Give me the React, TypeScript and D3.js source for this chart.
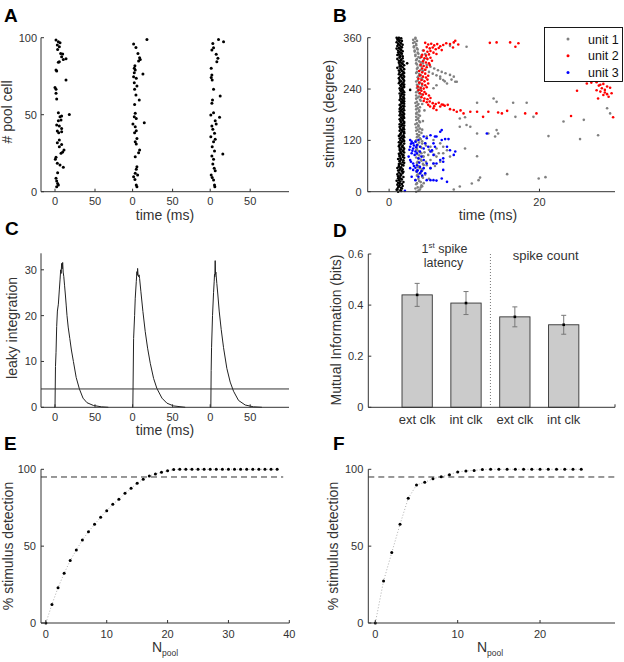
import React from 'react';
import * as d3 from 'd3';

const FONT = '"Liberation Sans", Arial, Helvetica, sans-serif';
const INK = '#333333';

// ---------------- Panel A : raster of pool cells (three trials) ----------------
const trialOffsets = [0, 97, 194];
const segTicks = [0, 50];
const poolTicks = [0, 50, 100];
const rasterTrial1 = [
  [1.25, 98.5], [4.2, 97.4], [6.25, 96.8], [2.9, 95.2], [5.4, 94.2], [3.3, 92.4], [7.1, 89.8], [9.6, 89.4],
  [8.3, 87.7], [10.4, 85.9], [13.75, 86.4], [5.4, 84.4], [4.2, 84], [1.25, 79], [2.1, 78.4], [13.75, 72.5],
  [0, 67.7], [1.25, 66.5], [1.25, 63.9], [2.1, 60.2], [4.2, 51.3], [17.9, 50.2], [6.25, 48.7], [8.3, 49.1],
  [4.2, 46.1], [7.5, 46.5], [2.1, 43.3], [5.4, 42.6], [8.3, 41.1], [2.9, 39.4], [4.6, 38.3], [8.3, 39],
  [5.4, 33.5], [2.9, 31.8], [8.3, 30.7], [5.4, 29.2], [11.25, 27.1], [9.6, 25.8], [7.5, 24.9], [1.25, 22.3],
  [0.4, 21], [2.9, 18.4], [6.25, 17.3], [10.4, 15.8], [3.3, 12.3], [1.25, 8.7], [2.1, 6.9], [3.3, 5.4],
  [4.2, 4.3], [2.1, 3.2],
];
const rasterTrial2 = [
  [17.9, 98.9], [1.25, 95.9], [4.2, 93.7], [6.7, 89.8], [8.75, 87], [9.6, 85.9], [7.5, 84.8], [2.9, 81.8],
  [2.1, 80.1], [3.3, 79], [2.1, 77.3], [12.9, 76.4], [1.25, 74.7], [4.6, 73.6], [2.1, 70.8], [5.4, 68.6],
  [2.5, 66.5], [4.2, 62.8], [8.3, 59.5], [2.5, 56.7], [3.3, 50.9], [2.1, 48.7], [4.6, 47.6], [0.4, 43.9],
  [14.6, 44.8], [3.3, 42.2], [4.6, 39.6], [2.5, 38.3], [5.4, 34.6], [3.3, 32.5], [4.6, 31], [8.75, 27.1],
  [7.5, 25.3], [3.3, 22.7], [5.4, 16.2], [4.6, 14.5], [3.3, 11.9], [1.25, 9.7], [6.25, 10.8], [2.9, 8],
  [4.6, 4.3], [5.4, 3.2],
];
const rasterTrial3 = [
  [10.4, 98.9], [16.7, 97.4], [3.3, 96.3], [4.2, 93.5], [2.1, 92], [7.5, 89.2], [9.6, 86.6], [8.3, 84.4],
  [1.25, 80.1], [2.1, 75.8], [1.25, 74.2], [2.5, 72.5], [4.2, 66.5], [12.5, 62.1], [2.9, 59.5], [2.1, 57.4],
  [4.2, 51.3], [0.8, 49.8], [11.7, 48.3], [6.25, 46.1], [2.1, 42.6], [3.3, 40.5], [7.5, 43.9], [5.4, 37.9],
  [0.8, 35.7], [6.25, 34], [4.2, 32.5], [2.5, 29.2], [5.4, 26.4], [2.1, 23.2], [15.8, 24.5], [4.2, 21],
  [3.3, 18], [5, 15.2], [6.25, 13.6], [1.25, 10.8], [2.5, 9.3], [4.2, 7.6], [5.4, 4.3], [5.8, 3.2],
];
const rasterTrials = [rasterTrial1, rasterTrial2, rasterTrial3];

// ---------------- Panel B : latency vs stimulus ----------------
const bDegTicks = [0, 120, 240, 360];
const bTimeTicks = [0, 20];
const blackStep = 3; // stimulus sampling (degrees) of black column
const blackLatA = [
  1.2, 1.5, 1.1, 1.6, 1.3, 1.4, 1.7, 1.2, 1.5, 1.3, 1.6, 1.4, 1.2, 1.6, 1.5, 1.3, 1.7, 1.4, 1.5, 1.6,
  1.3, 1.7, 1.5, 1.8, 1.4, 1.6, 1.5, 1.8, 1.4, 1.7, 1.6, 1.5, 1.9, 1.6, 1.4, 1.7, 1.8, 1.5, 1.6, 1.7,
  1.5, 1.8, 1.6, 1.7, 1.9, 1.5, 1.6, 1.8, 1.7, 1.5, 1.9, 1.6, 1.7, 1.8, 1.6, 1.5, 1.8, 1.7, 1.6, 1.9,
  1.7, 1.5, 1.8, 1.6, 1.7, 1.9, 1.6, 1.8, 1.5, 1.7, 1.6, 1.8, 1.7, 1.5, 1.9, 1.6, 1.7, 1.8, 1.6, 1.5,
  1.7, 1.8, 1.6, 1.5, 1.7, 1.9, 1.6, 1.4, 1.8, 1.7, 1.5, 1.6, 1.8, 1.4, 1.7, 1.6, 1.5, 1.8, 1.6, 1.4,
  1.7, 1.5, 1.3, 1.6, 1.8, 1.4, 1.5, 1.3, 1.6, 1.4, 1.2, 1.5, 1.3, 1.6, 1.4, 1.2, 1.5, 1.3, 1.4, 1.2,
  1.3,
];
const blackLatB = [
  1.6, 1.0, 1.7, 1.2, 1.8, 1.1, 1.4, 1.9, 1.0, 1.7, 1.2, 1.9, 1.5, 1.1, 1.8, 1.9, 1.2, 1.8, 1.1, 1.3,
  1.9, 1.3, 2.0, 1.4, 1.9, 1.2, 2.0, 1.4, 1.9, 1.3, 2.0, 1.8, 1.4, 2.0, 1.9, 1.3, 1.4, 2.0, 1.3, 2.0,
  1.9, 1.4, 2.0, 1.3, 1.5, 2.0, 2.0, 1.4, 2.0, 1.9, 1.4, 2.0, 1.4, 2.0, 2.0, 1.8, 1.4, 2.0, 1.9, 1.4,
  2.0, 1.9, 1.4, 2.0, 1.4, 1.5, 2.0, 1.4, 2.0, 1.9, 2.0, 1.4, 2.0, 1.9, 1.5, 2.0, 1.4, 2.0, 1.9, 1.8,
  1.4, 2.0, 1.9, 2.0, 1.3, 1.4, 2.0, 1.9, 1.3, 2.0, 1.9, 1.3, 2.0, 1.9, 1.3, 2.0, 1.1, 1.4, 2.0, 1.8,
  1.3, 1.9, 1.6, 1.1, 1.4, 1.8, 1.1, 1.7, 1.2, 1.8, 1.6, 1.0, 1.7, 1.1, 1.8, 1.6, 1.0, 1.7, 1.1, 1.6,
  1.0,
];
const blackExtra = [[2.8, 238], [2.4, 300]];
const greyStep = 5;
const unit1ColA = [
  3.6, 4.1, 3.8, 4.3, 3.7, 4.0, 3.9, 4.4, 3.8, 4.2,
  3.7, 4.1, 3.9, 4.5, 3.8, 4.2, 3.6, 4.0, 4.3, 3.9,
  3.7, 4.2, 3.8, 4.0, 3.6, 4.1, 3.9, 3.7, 4.0, 3.8,
  3.6, 3.9, 3.7, 4.0, 3.8, 3.6, 3.9, 3.7, 4.0, 3.8,
  3.6, 3.9, 3.7, 4.1, 3.8, 3.6, 4.0, 3.8, 4.2, 3.9,
  3.7, 4.1, 3.8, 4.3, 3.9, 4.0, 3.7, 4.2, 3.8, 4.1,
  3.6, 4.0, 3.7, 3.9, 3.5, 3.8, 3.4, 3.7, 3.3, 3.6,
  3.4, 3.2, 3.5,
];
const unit1ColB = [
  3.9, 3.5, 4.4, 3.6, 4.2, 3.5, 4.5, 3.7, 4.1, 3.6,
  4.4, 3.8, 4.6, 3.7, 4.3, 3.9, 4.5, 3.7, 4.1, 3.6,
  4.3, 3.7, 4.4, 3.6, 4.2, 3.7, 4.0, 4.3, 3.6, 4.1,
  3.9, 3.5, 4.1, 3.6, 3.9, 4.1, 3.6, 4.0, 3.6, 4.1,
  3.8, 3.5, 4.2, 3.6, 4.0, 4.3, 3.6, 4.1, 3.7, 4.4,
  4.0, 3.6, 4.4, 3.8, 4.2, 3.6, 4.5, 3.7, 4.3, 3.7,
  4.2, 3.6, 4.1, 3.5, 3.9, 3.4, 3.8, 3.3, 3.6, 3.2,
  3.7, 3.5,
];
const unit1Scatter = [
  [10.3, 339], [20.8, 339], [8.1, 341], [8.1, 273], [8.6, 269], [8.8, 257], [9.0, 257], [7.7, 253],
  [7.2, 261], [6.8, 269], [6.3, 249], [5.9, 242], [4.5, 300], [5.0, 296], [5.5, 292], [6.0, 288],
  [6.5, 284], [7.0, 280], [7.5, 277], [4.8, 285], [5.3, 280], [5.8, 276], [6.3, 272], [6.8, 264],
  [7.4, 258], [8.3, 262], [4.5, 330], [4.8, 322], [4.3, 318], [5.0, 312], [4.6, 308],
  [11.7, 208], [13.9, 218], [14.3, 210], [16.5, 208], [18.3, 208], [16.8, 175], [19.2, 175], [9.4, 171],
  [10.1, 174], [10.3, 156], [10.8, 152], [9.4, 152], [11.7, 136], [13.2, 136], [14.3, 144], [14.5, 136],
  [14.1, 129], [23.2, 164], [25.9, 168], [21.2, 130], [25.4, 123], [27.8, 132], [29.0, 195], [29.4, 183],
  [10.1, 101], [11.7, 83], [15.7, 41], [12.1, 33], [11.9, 27], [11.0, 19], [9.4, 12], [8.6, 5],
  [19.9, 31], [20.8, 34],
  [5.0, 129], [5.9, 121], [6.8, 113], [7.2, 105], [7.7, 97], [6.3, 101], [5.5, 105], [4.6, 82],
  [5.5, 74], [6.3, 82], [7.2, 90], [8.1, 82], [4.8, 113], [5.7, 94], [6.6, 90], [5.0, 62],
  [5.9, 66], [6.8, 70], [5.5, 55], [4.4, 118], [4.9, 108], [5.3, 98], [6.0, 86], [4.7, 92],
  [5.2, 86], [4.9, 70], [6.1, 60], [4.4, 50], [4.8, 40], [5.3, 30], [4.6, 20], [4.2, 10],
  [4.4, 205], [4.7, 190], [4.5, 165], [4.4, 145],
];
const unit2 = [
  [4.8, 348], [5.2, 344], [5.6, 346], [6.0, 342], [6.4, 345], [6.8, 340], [7.2, 343], [7.6, 347],
  [8.1, 345], [8.6, 349], [5.0, 338], [5.4, 335], [5.8, 337], [6.2, 333], [6.6, 336], [7.0, 331],
  [4.6, 330], [5.1, 327], [5.5, 329], [5.9, 325], [6.3, 322], [4.4, 320], [4.9, 318], [5.3, 321],
  [4.3, 315], [4.7, 312], [5.1, 310], [5.5, 313], [4.5, 305], [4.9, 302], [5.3, 300], [5.7, 306],
  [4.2, 297], [4.6, 294], [5.0, 291], [5.4, 296], [4.4, 288], [4.8, 285],
  [4.0, 282], [4.4, 279], [4.8, 276], [4.1, 272], [4.5, 269], [4.9, 267], [5.2, 271], [3.9, 264],
  [4.3, 261], [4.7, 258], [5.1, 262], [4.0, 255], [4.4, 252], [4.8, 249], [5.2, 253], [3.8, 246],
  [4.2, 243], [4.6, 241], [5.0, 244], [3.9, 238], [4.3, 236], [4.7, 233],
  [4.1, 230], [4.5, 227], [4.9, 229], [5.3, 225], [4.3, 221], [4.7, 218], [5.1, 216], [5.5, 219],
  [4.6, 212], [5.0, 209], [5.4, 211], [5.8, 207], [6.2, 205], [6.6, 208], [7.0, 204], [5.2, 203],
  [6.0, 200], [7.4, 201], [7.8, 203],
  [5.45, 199], [5.9, 195], [6.3, 191], [6.8, 199], [7.2, 203], [8.6, 191], [9.0, 187], [9.9, 183],
  [10.8, 187], [11.7, 187], [12.5, 175], [13.2, 187], [14.5, 185], [15.0, 183], [15.7, 189], [18.1, 183],
  [19.6, 183], [24.2, 177], [29.8, 174], [8.1, 193], [9.5, 190],
  [8.8, 353], [9.2, 344], [8.5, 337], [13.4, 348], [14.3, 349], [16.1, 349], [17.2, 347], [16.8, 339],
  [25.0, 236], [26.3, 253], [26.9, 255], [27.6, 256], [27.9, 248], [28.1, 250], [28.5, 252], [28.3, 242],
  [28.7, 238], [29.0, 246], [29.4, 243], [29.6, 230], [27.6, 237], [28.5, 226], [29.2, 222], [28.1, 234],
  [27.8, 218], [28.7, 232], [29.0, 228],
];
const unit3 = [
  [2.8, 121], [3.0, 117], [3.2, 113], [3.5, 117], [3.7, 109], [3.9, 121], [2.8, 105], [3.2, 101],
  [3.5, 94], [3.7, 90], [3.0, 90], [2.6, 82], [2.8, 74], [3.2, 66], [3.7, 62], [4.1, 58],
  [4.6, 55], [2.8, 55], [3.2, 51], [3.7, 47], [4.1, 43], [3.0, 35], [3.5, 27], [5.0, 27],
  [5.9, 27], [7.0, 31], [7.2, 51], [6.3, 66], [6.8, 74], [7.2, 78], [8.1, 97], [7.7, 105],
  [7.0, 121], [6.3, 129], [5.5, 132], [5.0, 125], [4.6, 129], [4.8, 113], [5.2, 105], [5.5, 94],
  [5.9, 86], [4.6, 74], [5.0, 66], [4.3, 82], [4.1, 94], [4.6, 101], [4.1, 105], [3.9, 78],
  [6.8, 140], [7.0, 144], [13.0, 136], [2.1, 2], [5.5, 55], [4.8, 43], [3.9, 35], [7.45, 123],
  [7.9, 123], [6.1, 129], [8.8, 94], [8.6, 86], [7.2, 70], [5.9, 66], [5.5, 27], [6.3, 26],
  [7.7, 23], [5.9, 113], [6.1, 105], [5.7, 97], [2.9, 112], [3.3, 108], [3.6, 104], [2.7, 98],
  [3.1, 96], [3.4, 86], [2.9, 70], [3.3, 60], [3.5, 56], [4.0, 68], [3.8, 50], [4.3, 48], [4.4, 38],
];
const legendLabels = ['unit 1', 'unit 2', 'unit 3'];
const unitColors = ['#808080', '#ff0000', '#0000ff'];

// ---------------- Panel C : leaky integration ----------------
const leakT1 = [-0.8, 0, 0.6, 1.3, 2.1, 3.0, 4.2, 5.4, 6.3, 7.1, 7.7, 8.3, 8.9, 9.6, 10.2, 11.0, 12.0, 13.0, 14.0, 15.0, 16.5, 18.5, 20.5, 23, 26.5, 30.5, 35, 40, 48, 58, 66.7];
const leakV1 = [0, 0, 8.9, 12, 17.6, 21, 22.5, 25.6, 27.8, 30, 29.2, 31.4, 30.2, 31.6, 29.5, 28.5, 26.5, 24.5, 22.3, 20, 17.5, 15, 12.5, 10, 6.5, 4, 2, 1, 0.4, 0.1, 0];
const leakT2 = [-0.5, 0.3, 1.25, 2.5, 3.3, 4.6, 5.4, 5.9, 6.25, 6.8, 7.5, 8.1, 8.75, 10.4, 12.9, 15.8, 18.75, 22.1, 26.25, 30.4, 36.7, 42.9, 51.25, 65.8];
const leakV2 = [0, 0, 15, 20, 23.8, 27.4, 29.6, 28.8, 30.3, 29.0, 28.5, 28.9, 28.1, 25.2, 20.9, 16.5, 12.9, 9.6, 6.3, 4.1, 2, 0.9, 0.3, 0];
const leakT3 = [0, 0.8, 1.2, 1.7, 2.9, 4.2, 5.0, 5.4, 5.8, 6.25, 6.7, 7.1, 8.3, 9.6, 11.25, 13.75, 16.7, 20.8, 25, 29.2, 35.4, 43.75, 54.2, 64.6];
const leakV3 = [0, 0, 8, 13, 20, 25, 27.5, 29, 28.5, 32, 29, 29.5, 27, 24.5, 21, 17, 13, 8.5, 5.5, 3.5, 1.5, 0.5, 0.1, 0];
const leakThreshold = 4;
const leakTicks = [0, 10, 20, 30];

// ---------------- Panel D : mutual information ----------------
const miCategories = ['ext clk', 'int clk', 'ext clk', 'int clk'];
const miValues = [0.44, 0.408, 0.354, 0.323];
const miErrors = [0.045, 0.045, 0.039, 0.037];
const miTicks = [0, 0.2, 0.4, 0.6];

// ---------------- Panels E, F : detection ----------------
const detectE = [0, 12.1, 23, 32.3, 40.6, 47.5, 54, 59.4, 64.2, 68.8, 73.1, 77.2, 80.5, 84.4, 87.6, 90.9, 93.5, 95.7, 97, 98, 99.1, 99.8,
  100, 100, 100, 100, 100, 100, 100, 100, 100, 100, 100, 100, 100, 100, 100, 100, 100];
const detectF = [0, 27.3, 45.8, 64.2, 81.1, 89.8, 91.5, 93.9, 95.2, 96.5, 98.3, 98.9, 99.3, 99.8,
  100, 100, 100, 100, 100, 100, 100, 100, 100, 100, 100, 100];
const detectCriterion = 95;
const eTicks = [0, 10, 20, 30, 40];
const fTicks = [0, 10, 20];
const pctTicks = [0, 50, 100];

// ---------------- scales ----------------
const xA = d3.scaleLinear().domain([-17.5, 292.5]).range([41, 289]);
const yA = d3.scaleLinear().domain([0, 100]).range([191.7, 37.7]);
const xB = d3.scaleLinear().domain([-2.85, 30.05]).range([367.7, 615]);
const yB = d3.scaleLinear().domain([0, 360]).range([191.7, 37.7]);
const xC = xA;
const yC = d3.scaleLinear().domain([0, 33.6]).range([407.3, 253.3]);
const xD = d3.scaleLinear().domain([0, 5.05]).range([368.3, 615]);
const yD = d3.scaleLinear().domain([0, 0.6]).range([407.3, 254]);
const xE = d3.scaleLinear().domain([-0.8, 40]).range([41, 289.3]);
const yE = d3.scaleLinear().domain([0, 100]).range([623, 469.3]);
const xF = d3.scaleLinear().domain([-0.85, 29.1]).range([368.3, 615]);
const yF = yE;

function XAxis({ scale, y, ticks, labels, dy = 13.5, fs = 11 }) {
  const [r0, r1] = scale.range();
  return (
    <g>
      <line x1={r0} x2={r1} y1={y} y2={y} stroke={INK} strokeWidth={1} />
      {ticks.map((t, i) => (
        <g key={i}>
          <line x1={scale(t)} x2={scale(t)} y1={y} y2={y - 3} stroke={INK} strokeWidth={1} />
          {labels ? (
            <text x={scale(t)} y={y + dy} textAnchor="middle" fontSize={fs} fill={INK}>{labels[i]}</text>
          ) : null}
        </g>
      ))}
    </g>
  );
}

function YAxis({ scale, x, ticks, labels, gap = 5, fs = 11 }) {
  const [r0, r1] = scale.range();
  return (
    <g>
      <line x1={x} x2={x} y1={r0} y2={r1} stroke={INK} strokeWidth={1} />
      {ticks.map((t, i) => (
        <g key={i}>
          <line x1={x} x2={x + 3} y1={scale(t)} y2={scale(t)} stroke={INK} strokeWidth={1} />
          <text x={x - gap} y={scale(t) + 4} textAnchor="end" fontSize={fs} fill={INK}>{labels[i]}</text>
        </g>
      ))}
    </g>
  );
}

function YLabel({ x, y, text, fs = 14 }) {
  return (
    <text transform={`translate(${x},${y}) rotate(-90)`} textAnchor="middle" fontSize={fs} fill={INK}>{text}</text>
  );
}

function PanelLetter({ x, y, t }) {
  return <text x={x} y={y} fontSize={19} fontWeight="bold" fill="#000">{t}</text>;
}

function segTickValues() {
  const v = [];
  trialOffsets.forEach((o) => segTicks.forEach((s) => v.push(o + s)));
  return v;
}
function segTickLabels() {
  const v = [];
  trialOffsets.forEach(() => segTicks.forEach((s) => v.push(String(s))));
  return v;
}

export default function App() {
  const segVals = segTickValues();
  const segLabs = segTickLabels();

  const blackPts = [];
  blackLatA.forEach((t, i) => blackPts.push([t, i * blackStep]));
  blackLatB.forEach((t, i) => blackPts.push([t, Math.min(360, i * blackStep + 1.5)]));
  blackExtra.forEach((p) => blackPts.push(p));
  const greyPts = [];
  unit1ColA.forEach((t, i) => greyPts.push([t, i * greyStep]));
  unit1ColB.forEach((t, i) => greyPts.push([t, i * greyStep + greyStep / 2]));
  unit1Scatter.forEach((p) => greyPts.push(p));

  const leakLine = d3.line().x((d) => d[0]).y((d) => d[1]);
  const leakTrials = [
    [leakT1, leakV1],
    [leakT2, leakV2],
    [leakT3, leakV3],
  ];

  const lineE = d3.line().x((d, i) => xE(i)).y((d) => yE(d));
  const lineF = d3.line().x((d, i) => xF(i)).y((d) => yF(d));
  const barW = 0.62;

  return (
    <svg width={624} height={662} style={{ position: 'absolute', left: 0, top: 0, background: '#fff' }} fontFamily={FONT}>
      <rect x={0} y={0} width={624} height={662} fill="#fff" />

      {/* ---------- A ---------- */}
      <PanelLetter x={4} y={22} t="A" />
      {rasterTrials.map((tr, k) =>
        tr.map((p, i) => (
          <circle key={`a${k}-${i}`} cx={xA(trialOffsets[k] + p[0])} cy={yA(p[1])} r={1.5} fill="#000" />
        ))
      )}
      <XAxis scale={xA} y={191.7} ticks={segVals} labels={segLabs} />
      <YAxis scale={yA} x={41} ticks={poolTicks} labels={poolTicks.map(String)} gap={4} />
      <YLabel x={12} y={112} text="# pool cell" />
      <text x={165} y={219.5} textAnchor="middle" fontSize={14} fill={INK}>time (ms)</text>

      {/* ---------- B ---------- */}
      <PanelLetter x={333} y={22} t="B" />
      {blackPts.map((p, i) => (
        <circle key={`bk${i}`} cx={xB(p[0])} cy={yB(p[1])} r={1.3} fill="#000" />
      ))}
      {greyPts.map((p, i) => (
        <circle key={`bg${i}`} cx={xB(p[0])} cy={yB(p[1])} r={1.3} fill={unitColors[0]} />
      ))}
      {unit2.map((p, i) => (
        <circle key={`br${i}`} cx={xB(p[0])} cy={yB(p[1])} r={1.3} fill={unitColors[1]} />
      ))}
      {unit3.map((p, i) => (
        <circle key={`bb${i}`} cx={xB(p[0])} cy={yB(p[1])} r={1.3} fill={unitColors[2]} />
      ))}
      <XAxis scale={xB} y={191.7} ticks={bTimeTicks} labels={bTimeTicks.map(String)} dy={14.5} />
      <YAxis scale={yB} x={367.7} ticks={bDegTicks} labels={bDegTicks.map(String)} gap={6} />
      <YLabel x={334} y={114} text="stimulus (degree)" />
      <text x={488} y={219.5} textAnchor="middle" fontSize={14} fill={INK}>time (ms)</text>
      <g>
        <rect x={544.5} y={27.5} width={78} height={54} fill="#fff" stroke="#000" strokeWidth={0.9} />
        {legendLabels.map((l, i) => (
          <g key={l}>
            <circle cx={568} cy={39 + i * 16.8} r={1.5} fill={unitColors[i]} />
            <text x={588} y={39 + i * 16.8 + 4.5} fontSize={12.5} fill="#111">{l}</text>
          </g>
        ))}
      </g>

      {/* ---------- C ---------- */}
      <PanelLetter x={5} y={235} t="C" />
      {leakTrials.map((tr, k) => {
        const pts = tr[0].map((t, i) => [xC(trialOffsets[k] + t), yC(tr[1][i])]);
        return <path key={`c${k}`} d={leakLine(pts)} fill="none" stroke="#222" strokeWidth={1} />;
      })}
      <line x1={xC.range()[0]} x2={xC.range()[1]} y1={yC(leakThreshold)} y2={yC(leakThreshold)} stroke="#333" strokeWidth={1} />
      <XAxis scale={xC} y={407.3} ticks={segVals} labels={segLabs} />
      <YAxis scale={yC} x={41} ticks={leakTicks} labels={leakTicks.map(String)} gap={4} />
      <YLabel x={17} y={328} text="leaky integration" />
      <text x={165} y={435} textAnchor="middle" fontSize={14} fill={INK}>time (ms)</text>

      {/* ---------- D ---------- */}
      <PanelLetter x={333} y={237} t="D" />
      <line x1={xD(2.5)} x2={xD(2.5)} y1={yD(0.6)} y2={yD(0)} stroke="#777" strokeWidth={1} strokeDasharray="1,2" />
      {miValues.map((v, i) => {
        const c = i + 1;
        return (
          <g key={`d${i}`}>
            <rect x={xD(c - barW / 2)} y={yD(v)} width={xD(c + barW / 2) - xD(c - barW / 2)} height={yD(0) - yD(v)}
              fill="#cbcbcb" stroke="#333" strokeWidth={0.9} />
            <line x1={xD(c)} x2={xD(c)} y1={yD(v - miErrors[i])} y2={yD(v + miErrors[i])} stroke="#777" strokeWidth={1} />
            <line x1={xD(c) - 2.5} x2={xD(c) + 2.5} y1={yD(v - miErrors[i])} y2={yD(v - miErrors[i])} stroke="#777" strokeWidth={1} />
            <line x1={xD(c) - 2.5} x2={xD(c) + 2.5} y1={yD(v + miErrors[i])} y2={yD(v + miErrors[i])} stroke="#777" strokeWidth={1} />
            <rect x={xD(c) - 1.3} y={yD(v) - 1.3} width={2.6} height={2.6} fill="#000" />
            <text x={xD(c)} y={424} textAnchor="middle" fontSize={13} fill={INK}>{miCategories[i]}</text>
          </g>
        );
      })}
      <XAxis scale={xD} y={407.3} ticks={[5.05]} labels={null} />
      <YAxis scale={yD} x={368.3} ticks={miTicks} labels={['0', '0.2', '0.4', '0.6']} />
      <YLabel x={341} y={330} text="Mutual Information (bits)" />
      <text x={xD(1.56)} y={253} textAnchor="middle" fontSize={12.5} fill={INK}>
        1<tspan fontSize={8} dy={-5}>st</tspan><tspan dy={5}> spike</tspan>
      </text>
      <text x={xD(1.54)} y={267} textAnchor="middle" fontSize={12.5} fill={INK}>latency</text>
      <text x={xD(3.63)} y={260} textAnchor="middle" fontSize={13} fill={INK}>spike count</text>

      {/* ---------- E ---------- */}
      <PanelLetter x={4} y={450} t="E" />
      <line x1={xE(-0.8)} x2={xE(39)} y1={yE(detectCriterion)} y2={yE(detectCriterion)} stroke="#333" strokeWidth={1} strokeDasharray="6,4" />
      <path d={lineE(detectE)} fill="none" stroke="#999" strokeWidth={0.8} strokeDasharray="1,2" />
      {detectE.map((v, i) => (
        <circle key={`e${i}`} cx={xE(i)} cy={yE(v)} r={1.5} fill="#000" />
      ))}
      <XAxis scale={xE} y={623} ticks={eTicks} labels={eTicks.map(String)} dy={14.5} />
      <YAxis scale={yE} x={41} ticks={pctTicks} labels={pctTicks.map(String)} />
      <YLabel x={13} y={546} text="% stimulus detection" />
      <text x={165} y={652} textAnchor="middle" fontSize={14} fill={INK}>
        N<tspan fontSize={8.5} dy={4}>pool</tspan>
      </text>

      {/* ---------- F ---------- */}
      <PanelLetter x={333} y={450} t="F" />
      <line x1={xF(-0.85)} x2={xF(29.1)} y1={yF(detectCriterion)} y2={yF(detectCriterion)} stroke="#333" strokeWidth={1} strokeDasharray="6,4" />
      <path d={lineF(detectF)} fill="none" stroke="#999" strokeWidth={0.8} strokeDasharray="1,2" />
      {detectF.map((v, i) => (
        <circle key={`f${i}`} cx={xF(i)} cy={yF(v)} r={1.5} fill="#000" />
      ))}
      <XAxis scale={xF} y={623} ticks={fTicks} labels={fTicks.map(String)} dy={14.5} />
      <YAxis scale={yF} x={368.3} ticks={pctTicks} labels={pctTicks.map(String)} />
      <YLabel x={338} y={546} text="% stimulus detection" />
      <text x={490} y={652} textAnchor="middle" fontSize={14} fill={INK}>
        N<tspan fontSize={8.5} dy={4}>pool</tspan>
      </text>
    </svg>
  );
}
